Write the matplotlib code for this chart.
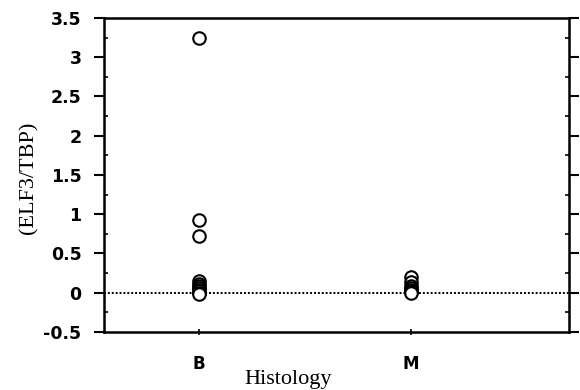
import numpy as np
import matplotlib
matplotlib.use("Agg")
import matplotlib.pyplot as plt
from matplotlib.ticker import MultipleLocator

# data
categories = ["B", "M"]
b_values = [3.25, 0.93, 0.72, 0.15, 0.11, 0.08, 0.06, 0.04, 0.02, 0.0, -0.02]
m_values = [0.2, 0.13, 0.09, 0.06, 0.04, 0.02, 0.01, 0.0]
y_ticks = [-0.5, 0, 0.5, 1, 1.5, 2, 2.5, 3, 3.5]
y_tick_labels = ["-0.5", "0", "0.5", "1", "1.5", "2", "2.5", "3", "3.5"]

fig = plt.figure(figsize=(5.8, 3.9), dpi=100)
ax = fig.add_axes([0.179, 0.149, 0.802, 0.805])

ax.axhline(0, color="black", linestyle=(0, (1, 1)), linewidth=1.4, zorder=1)

for i, vals in enumerate([b_values, m_values]):
    ax.plot([i + 1] * len(vals), vals, "o", markerfacecolor="white",
            markeredgecolor="black", markersize=9, markeredgewidth=1.5,
            linestyle="none", zorder=3)

ax.set_xlim(0.552, 2.745)
ax.set_ylim(-0.5, 3.5)
ax.set_xticks([1, 2])
ax.set_xticklabels(categories, fontfamily="DejaVu Sans", fontweight="bold", fontsize=12)
ax.set_yticks(y_ticks)
ax.set_yticklabels(y_tick_labels, fontfamily="DejaVu Sans", fontweight="bold", fontsize=12.5)
ax.yaxis.set_minor_locator(MultipleLocator(0.25))

for s in ax.spines.values():
    s.set_linewidth(1.8)

ax.tick_params(axis="y", which="major", direction="out", length=7, width=1.5,
               right=True, pad=9)
ax.tick_params(axis="y", which="minor", direction="in", length=3, width=1.2, right=True)
ax.tick_params(axis="x", which="major", direction="inout", length=5, width=1.2, pad=14)

ax.set_ylabel("(ELF3/TBP)", fontfamily="Liberation Serif", fontsize=16)
ax.yaxis.set_label_coords(-0.14, 0.49)
ax.set_xlabel("Histology", fontfamily="Liberation Serif", fontsize=16)
ax.xaxis.set_label_coords(0.396, -0.12)

fig.savefig("out.png", dpi=100)
